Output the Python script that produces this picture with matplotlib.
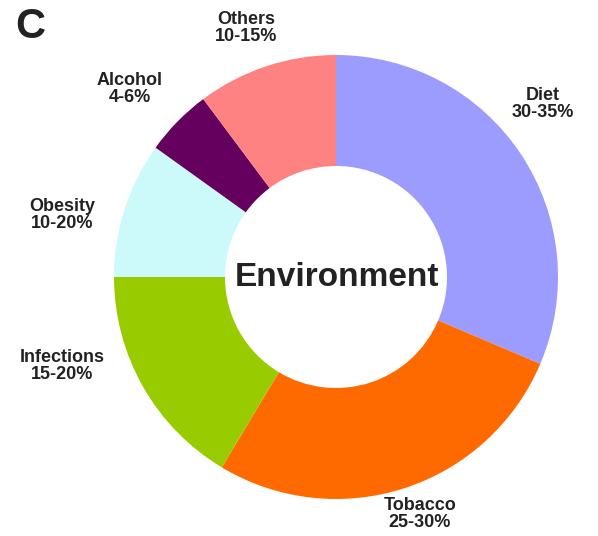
import matplotlib
matplotlib.use("Agg")
import matplotlib.pyplot as plt

categories = ["Diet", "Tobacco", "Infections", "Obesity", "Alcohol", "Others"]
values = [31.4, 27.2, 16.4, 9.9, 4.9, 10.2]
ranges = ["30-35%", "25-30%", "15-20%", "10-20%", "4-6%", "10-15%"]
colors = ["#9c9cff", "#ff6a00", "#99cc00", "#ccfafa", "#66005f", "#ff8282"]

W, H = 598, 536
fig = plt.figure(figsize=(W / 100, H / 100), dpi=100)
ax = fig.add_axes([0, 0, 1, 1])
cx, cy, R = 336, 277, 222

ax.pie(values, colors=colors, startangle=90, counterclock=False,
       radius=1.0, wedgeprops=dict(width=0.5, linewidth=0))

ax.set_xlim(-cx / R, (W - cx) / R)
ax.set_ylim((cy - H) / R, cy / R)
ax.set_aspect("equal")
ax.axis("off")

def px(x, y):
    return (x - cx) / R, (cy - y) / R

font = dict(family=["Liberation Sans", "DejaVu Sans"], fontweight="bold", color="#222222")
label_pos = {
    "Diet": (543, 104),
    "Tobacco": (420, 514),
    "Infections": (62, 366),
    "Obesity": (62, 215),
    "Alcohol": (130, 89),
    "Others": (246, 28),
}
for c, r in zip(categories, ranges):
    x, y = px(*label_pos[c])
    ax.text(x, y, f"{c}\n{r}", ha="center", va="center", fontsize=13,
            linespacing=1.0, **font)

x, y = px(337, 277)
ax.text(x, y, "Environment", ha="center", va="center", fontsize=24, **font)
x, y = px(30, 27)
ax.text(x, y, "C", ha="center", va="center", fontsize=30, **font)

fig.savefig("out.png", dpi=100)
